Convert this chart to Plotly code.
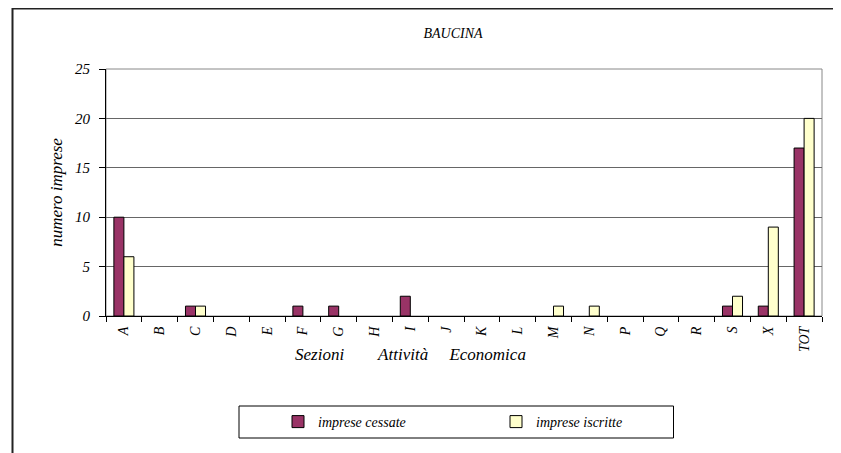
import plotly.graph_objects as go

categories = ["A", "B", "C", "D", "E", "F", "G", "H", "I", "J",
              "K", "L", "M", "N", "P", "Q", "R", "S", "X", "TOT"]
cessate = [10, 0, 1, 0, 0, 1, 1, 0, 2, 0, 0, 0, 0, 0, 0, 0, 0, 1, 1, 17]
iscritte = [6, 0, 1, 0, 0, 0, 0, 0, 0, 0, 0, 0, 1, 1, 0, 0, 0, 2, 9, 20]
y_ticks = [0, 5, 10, 15, 20, 25]

W, H = 841, 453
OFF = 8  # the page body adds an 8px margin; work in screen pixels
L, R, T, B = 106 - OFF, 822 - OFF, 69 - OFF, 316 - OFF


def px(x):
    return (x - OFF - L) / (R - L)


def py(y):
    return (B - (y - OFF)) / (B - T)


FONT = "Liberation Serif"


def outline(values):
    # no outline for empty bars, so they do not thicken the axis line
    return [1 if v else 0 for v in values]


fig = go.Figure()
fig.add_trace(go.Bar(
    x=categories, y=cessate, name="imprese cessate",
    marker=dict(color="#993366",
                line=dict(color="black", width=outline(cessate))),
))
fig.add_trace(go.Bar(
    x=categories, y=iscritte, name="imprese iscritte",
    marker=dict(color="#FFFFCC",
                line=dict(color="black", width=outline(iscritte))),
))

fig.update_layout(
    width=W, height=H,
    margin=dict(l=L, r=W - R, t=T, b=H - B, pad=0),
    paper_bgcolor="white", plot_bgcolor="white",
    font=dict(family=FONT, style="italic", color="black"),
    barmode="group", bargap=0.44, bargroupgap=0,
    showlegend=True,
    title=dict(text="BAUCINA", x=(453 - OFF) / W, xanchor="center",
               y=1 - (33 - OFF) / H, yanchor="middle",
               font=dict(family=FONT, size=14, style="italic")),
    legend=dict(orientation="h", x=px(278), xanchor="left",
                y=py(422), yanchor="middle",
                entrywidth=173, entrywidthmode="pixels",
                borderwidth=0, bgcolor="rgba(0,0,0,0)",
                font=dict(family=FONT, size=14, style="italic")),
)

fig.update_xaxes(
    type="category", tickangle=-90, tickson="boundaries",
    ticks="outside", ticklen=5, tickcolor="black",
    showline=True, linecolor="black", linewidth=1,
    showgrid=False, ticklabelstandoff=4,
    tickfont=dict(family=FONT, size=14, style="italic"),
)
fig.update_yaxes(
    range=[0, 25], tickvals=y_ticks,
    ticks="outside", ticklen=6, tickcolor="black",
    showline=True, linecolor="black", linewidth=1,
    showgrid=True, gridcolor="#666666", gridwidth=1,
    zeroline=False, ticklabelstandoff=6,
    tickfont=dict(family=FONT, size=15, style="italic"),
    title=dict(text="numero imprese", standoff=8,
               font=dict(family=FONT, size=17, style="italic")),
)

NB = "\u00a0"
fig.add_annotation(
    text="Sezioni" + NB * 8 + "Attività" + NB * 5 + "Economica",
    xref="paper", yref="paper", x=px(410), y=py(354),
    xanchor="center", yanchor="middle", showarrow=False,
    font=dict(family=FONT, size=17, style="italic"),
)

shapes = [
    dict(type="rect", xref="paper", yref="paper", x0=0, x1=1, y0=0, y1=1,
         line=dict(color="#888888", width=1), layer="below"),
    dict(type="rect", xref="paper", yref="paper",
         x0=px(12.5), x1=px(837.5), y0=py(475), y1=py(8.5),
         line=dict(color="#222222", width=2)),
    dict(type="rect", xref="paper", yref="paper",
         x0=px(239), x1=px(673.5), y0=py(438), y1=py(406),
         line=dict(color="black", width=1)),
]
fig.update_layout(shapes=shapes)

fig.write_html("out.html")
